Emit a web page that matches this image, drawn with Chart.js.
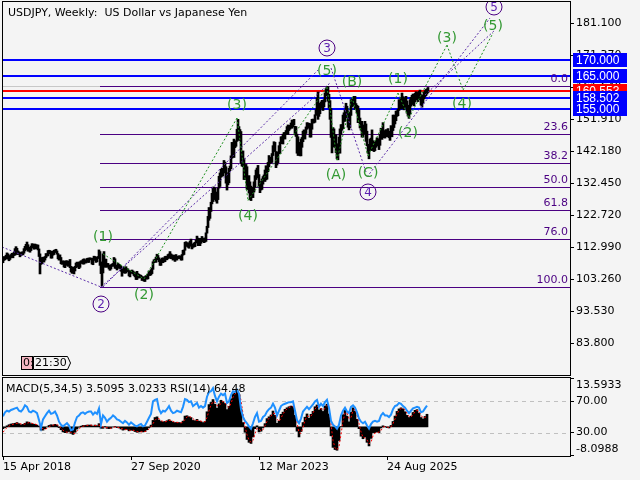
<!DOCTYPE html>
<html lang="en">
<head>
<meta charset="UTF-8">
<title>USDJPY, Weekly</title>
<script src="https://cdn.jsdelivr.net/npm/chart.js@4/dist/chart.umd.min.js"></script>
<style>
  body { margin: 0; background: #f4f4f4; }
  #wrap { position: relative; width: 640px; height: 480px; overflow: hidden; background: #f4f4f4; }
  canvas { position: absolute; left: 0; }
  #main { top: 0; }
  #sub { top: 377px; }
</style>
</head>
<body>
<div id="wrap">
  <canvas id="main" width="640" height="377"></canvas>
  <canvas id="sub" width="640" height="103"></canvas>
</div>
<script>
// weekly bars, week 0 = 15 Apr 2018
const lo = [
  108.3,109.0,109.2,109.5,110.2,109.4,108.9,109.3,109.8,110.0,
  109.8,110.5,110.6,111.8,110.8,110.9,110.8,110.1,110.5,110.7,
  110.7,111.2,111.9,112.3,113.3,111.8,111.9,111.5,112.0,112.8,
  112.9,112.4,113.0,112.5,112.8,112.2,110.2,104.9,107.8,108.0,
  109.0,108.5,109.1,109.8,110.3,110.4,111.0,111.1,109.7,109.7,
  110.6,110.8,111.7,111.4,110.9,109.5,109.1,109.2,108.0,107.8,
  108.0,107.0,106.8,107.5,107.8,107.2,107.7,106.8,105.5,105.1,
  105.2,104.9,105.8,106.8,107.4,107.0,106.5,106.9,108.1,108.2,
  107.9,107.9,108.3,108.2,108.7,108.4,108.4,109.2,109.2,107.9,
  107.7,109.4,109.0,108.4,108.6,109.6,109.7,107.5,105.0,101.2,
  105.2,107.2,106.9,107.9,106.9,107.2,106.4,106.0,106.4,107.3,
  107.2,107.4,106.6,106.6,106.1,107.0,106.6,106.6,105.7,104.2,
  105.3,105.2,105.1,105.2,105.6,105.9,104.3,104.0,105.2,105.1,
  104.9,104.4,104.0,103.2,103.2,103.7,103.7,103.7,103.8,102.9,
  103.1,102.7,102.6,103.5,103.3,103.4,104.6,104.4,104.6,105.0,
  106.3,108.3,108.6,108.4,109.6,109.2,108.6,107.5,107.5,108.5,
  108.3,108.6,108.6,109.2,109.2,109.6,109.7,110.4,109.5,109.7,
  109.1,109.4,108.7,109.2,109.1,109.6,109.6,109.6,109.1,109.1,
  110.6,110.8,112.1,113.4,113.3,113.0,112.7,113.6,113.3,112.5,
  113.0,113.1,113.2,114.3,115.0,113.5,113.5,113.5,114.2,115.0,
  114.7,114.4,114.6,114.8,117.3,119.0,121.2,121.8,123.9,126.2,
  126.9,129.8,127.5,127.0,126.4,127.5,131.0,131.5,134.3,134.6,
  134.7,135.8,135.6,132.5,130.4,132.0,132.6,136.3,136.9,140.1,
  141.7,140.3,143.3,143.7,145.2,148.4,145.5,145.6,138.5,137.7,
  137.5,133.6,133.6,134.0,130.6,130.6,129.5,127.5,127.2,129.0,
  128.1,129.8,131.3,133.6,135.2,134.1,131.6,129.6,130.4,130.6,
  132.2,133.6,133.0,133.5,133.7,136.0,137.5,138.5,138.7,138.8,
  140.9,143.0,142.1,137.2,138.0,138.7,141.5,141.5,144.5,144.6,
  144.4,146.0,145.9,147.3,148.4,147.3,148.5,148.9,149.3,149.2,
  149.6,150.2,147.2,146.7,141.6,140.9,141.9,140.8,140.8,143.4,
  145.1,146.7,145.9,147.6,148.9,149.6,149.2,146.5,146.5,148.9,
  150.8,150.8,151.0,153.1,154.4,151.9,152.8,153.6,155.4,156.3,
  154.6,155.7,157.2,159.1,160.3,157.4,155.4,151.9,146.4,141.7,
  146.1,143.5,143.4,141.8,139.9,139.6,142.0,141.6,147.3,148.6,
  149.1,151.3,151.3,152.4,153.3,149.5,148.7,149.4,153.1,155.7,
  156.0,156.7,154.9,155.0,153.8,150.9,150.9,149.3,148.6,146.5,
  146.5,147.4,148.9,145.2,143.9,141.6,139.9,142.4,142.4,145.1,
  142.4,142.1,142.4,143.4,143.9,143.8,142.7,144.0,147.0,145.8,
  146.6,146.3,146.2,146.8,146.6,146.8,146.3,145.5,147.0,146.6,
  148.5,149.4,150.5,151.5,152.8,153.0,154.6,155.5,155.0,156.5,
  155.2,154.8,155.5,156.0,153.8,152.9,152.2,153.5,155.9,156.4,
  157.0,156.0,157.2,157.8,158.0,157.3,157.9,158.6,156.2,155.6,
  156.8,158.1,158.7,159.1,159.6,160.0
];
const hi = [
  109.6,110.2,110.0,110.6,111.3,111.0,110.2,110.5,110.8,111.2,
  110.9,111.5,112.6,113.2,112.7,111.9,111.6,111.4,111.3,111.6,
  111.6,112.6,113.3,113.9,114.6,113.8,112.9,113.0,113.4,114.1,
  114.0,113.4,114.0,113.8,113.7,113.7,112.5,111.0,109.1,109.9,
  110.0,109.9,110.2,111.1,111.0,112.0,112.1,112.0,111.8,111.0,
  111.8,112.1,112.2,112.4,111.9,111.1,110.3,110.7,109.9,108.7,
  108.9,108.8,108.3,108.9,108.9,108.3,108.8,109.3,107.2,107.0,
  106.9,106.7,107.2,108.2,108.5,108.0,108.5,108.6,108.9,108.9,
  109.3,109.5,109.2,109.1,109.6,109.7,109.7,109.8,109.7,109.6,
  109.7,110.3,110.2,109.6,110.0,110.2,112.2,111.7,108.5,108.5,
  111.0,111.7,109.4,109.4,108.1,108.1,107.6,107.0,107.7,107.9,
  108.1,109.9,109.5,107.6,107.4,108.2,107.8,107.5,107.3,106.0,
  106.5,107.0,106.1,107.1,106.6,106.4,105.9,105.8,105.8,106.1,
  105.8,105.5,105.0,105.3,105.7,105.0,104.8,104.6,104.5,104.1,
  104.0,103.7,104.1,104.4,104.1,104.9,105.8,105.6,106.2,106.7,
  108.6,109.2,109.4,110.0,110.9,110.5,109.8,108.8,109.3,109.7,
  109.8,109.4,110.2,110.3,109.8,110.8,111.0,111.7,111.0,110.7,
  110.6,110.6,110.3,110.8,110.0,110.3,110.4,110.4,110.1,110.8,
  112.1,112.2,114.5,114.7,114.3,114.4,114.2,114.9,115.5,113.9,
  114.0,114.3,114.5,115.2,116.4,115.8,115.0,115.7,115.7,116.3,
  115.7,115.8,115.8,117.4,119.4,122.4,125.1,124.7,126.7,129.4,
  131.3,131.3,131.0,129.8,128.0,131.0,134.6,135.6,136.7,137.0,
  136.6,139.4,138.9,137.5,135.6,135.6,137.0,137.7,140.8,144.9,
  144.7,145.9,145.0,145.4,148.9,151.9,149.7,148.8,148.2,140.8,
  142.3,139.9,137.9,138.2,137.5,134.5,134.8,132.9,131.6,131.1,
  131.2,132.9,134.8,136.5,137.1,137.9,135.1,132.7,133.0,133.8,
  134.5,135.0,136.5,137.8,136.0,138.8,140.9,140.4,140.2,141.5,
  143.9,145.1,144.9,142.1,142.0,141.9,143.9,145.0,146.6,146.6,
  147.4,147.9,147.9,148.5,149.7,150.2,149.8,150.1,150.8,151.7,
  151.6,151.9,149.8,149.7,147.4,146.6,144.9,142.8,145.9,146.4,
  148.3,148.7,148.6,149.6,150.9,150.8,150.7,150.6,149.2,151.9,
  152.0,151.9,153.3,154.8,158.4,160.2,155.9,156.8,157.2,157.7,
  157.0,157.9,159.9,161.3,161.9,161.8,159.5,157.6,155.2,147.9,
  149.4,149.0,147.2,147.2,143.0,144.5,146.5,149.0,150.3,150.3,
  153.2,153.9,154.7,156.8,155.9,154.5,151.2,154.0,157.9,158.1,
  158.2,158.9,158.9,156.7,156.2,155.9,154.8,152.3,151.2,151.3,
  149.2,150.2,151.3,150.5,148.3,144.3,144.0,145.9,146.2,148.7,
  145.4,144.9,145.0,145.5,146.3,146.0,144.9,147.3,149.2,148.8,
  150.9,148.0,148.5,148.8,148.0,149.1,148.2,148.3,150.0,149.5,
  153.2,153.2,152.9,154.4,154.5,155.0,157.9,157.2,158.5,159.9,
  158.8,157.9,158.4,158.9,157.5,156.2,155.6,157.9,158.6,159.2,
  159.6,158.8,159.8,160.3,160.1,159.6,160.4,160.8,159.4,158.2,
  159.3,160.1,160.6,161.0,161.2,161.6
];

// indicator values, one every 2 weeks
const macd = [
  -0.5,-0.2,0.3,0.6,0.8,0.9,1.0,1.2,0.9,0.6,
  0.7,1.0,1.4,1.3,0.9,0.8,0.7,0.5,0.2,-0.9,
  -0.9,-0.5,0.0,0.4,0.6,0.5,0.7,0.5,-0.2,-0.8,
  -1.4,-1.6,-1.5,-1.3,-1.8,-2.1,-1.5,-0.6,-0.1,0.2,
  0.4,0.4,0.5,0.5,0.5,0.2,0.5,0.3,0.9,-0.4,
  -0.4,0.1,-0.4,-0.5,-0.4,0.0,0.1,-0.2,-0.3,-0.6,
  -0.9,-0.7,-0.7,-1.1,-0.9,-1.0,-1.3,-1.5,-1.4,-1.3,
  -1.4,-1.3,-0.8,-0.2,0.5,1.8,2.6,2.8,1.9,1.5,
  1.4,1.5,1.7,2.0,1.6,1.3,1.2,1.3,1.2,1.1,
  1.6,3.0,3.1,2.8,2.6,1.8,1.7,2.1,1.6,1.5,
  1.2,1.5,4.2,6.2,6.8,7.6,6.3,5.2,6.4,7.4,
  7.0,6.5,4.8,5.7,7.8,9.2,9.4,10.4,9.0,5.0,
  1.2,-1.5,-3.5,-4.3,-4.6,-2.8,-0.5,0.3,-1.4,-1.2,
  -0.2,0.9,2.3,2.8,3.3,4.4,3.2,1.0,1.6,3.5,
  4.1,4.9,5.3,5.6,5.8,5.7,3.2,-1.2,-2.8,-1.3,
  1.2,2.7,3.6,2.4,3.5,4.3,5.6,6.1,4.7,5.1,
  4.3,5.8,6.3,3.6,-2.5,-5.7,-6.3,-6.5,-3.8,0.1,
  3.4,4.6,3.0,1.4,4.1,5.3,4.4,2.1,-0.5,-2.6,
  -3.3,-2.8,-4.3,-5.3,-3.2,-1.6,-1.6,-1.4,-1.6,-0.3,
  0.3,0.1,-0.2,-0.3,0.4,1.5,3.0,4.3,5.0,5.3,
  5.0,4.2,3.2,2.6,3.0,4.0,4.6,4.8,3.8,2.6,
  2.2,2.9,3.5095
];
const signal = [
  -1.5,-0.8,-0.2,0.2,0.5,0.7,0.9,1.0,1.0,0.8,
  0.7,0.8,1.0,1.2,1.1,0.9,0.8,0.6,0.4,-0.1,
  -0.6,-0.7,-0.4,0.0,0.3,0.5,0.6,0.6,0.2,-0.4,
  -0.9,-1.3,-1.5,-1.4,-1.5,-1.8,-1.8,-1.2,-0.6,-0.1,
  0.2,0.3,0.4,0.5,0.5,0.4,0.4,0.4,0.5,0.3,
  -0.1,-0.2,-0.2,-0.3,-0.4,-0.2,0.0,-0.1,-0.2,-0.4,
  -0.6,-0.8,-0.7,-0.9,-1.0,-0.9,-1.1,-1.3,-1.4,-1.4,
  -1.3,-1.3,-1.1,-0.6,0.0,0.9,1.8,2.4,2.3,1.8,
  1.5,1.4,1.6,1.8,1.8,1.5,1.3,1.2,1.2,1.1,
  1.3,2.1,2.8,2.9,2.7,2.3,1.8,1.8,1.8,1.6,
  1.4,1.4,2.6,4.5,6.1,7.0,6.9,5.9,5.8,6.6,
  7.1,6.8,5.9,5.4,6.5,8.2,9.1,9.8,9.6,7.4,
  3.6,0.2,-2.2,-3.7,-4.3,-3.8,-1.9,-0.4,-0.6,-1.1,
  -0.8,0.3,1.5,2.4,3.0,3.8,3.7,2.2,1.5,2.4,
  3.6,4.4,5.0,5.4,5.6,5.7,4.6,1.2,-1.6,-1.8,
  -0.2,1.8,3.0,2.9,3.0,3.9,4.9,5.8,5.4,5.0,
  4.7,5.1,6.0,4.9,0.8,-3.8,-5.8,-6.4,-5.4,-2.1,
  1.6,3.9,3.9,2.3,2.6,4.6,4.9,3.4,0.9,-1.4,
  -2.9,-3.0,-3.6,-4.7,-4.3,-2.5,-1.7,-1.5,-1.5,-1.0,
  -0.1,0.1,0.0,-0.2,0.0,0.9,2.2,3.6,4.6,5.1,
  5.1,4.7,3.8,2.9,2.7,3.4,4.2,4.6,4.3,3.3,
  2.5,2.6,3.0233
];
const rsi = [
  51,56,58,57,59,60,61,62,58,57,
  60,65,63,57,56,58,57,55,46,36,
  47,51,55,58,54,55,57,52,44,40,
  38,40,42,39,33,34,43,50,52,55,
  56,54,56,57,57,53,56,54,61,41,
  52,49,44,47,49,52,50,47,46,44,
  42,45,43,40,43,41,39,38,40,41,
  38,39,44,49,54,70,72,73,60,55,
  58,57,60,64,58,55,56,58,57,56,
  63,73,72,69,70,64,66,68,62,64,
  62,64,76,82,83,87,77,70,76,80,
  78,80,68,70,78,83,82,85,80,60,
  50,45,42,38,35,42,50,55,44,45,
  50,52,57,60,62,67,62,52,58,64,
  66,67,68,69,69,70,58,46,42,48,
  57,60,63,60,63,66,70,72,63,67,
  64,69,72,62,45,40,38,35,40,52,
  58,62,57,55,63,65,62,56,48,44,
  42,44,39,35,41,44,45,44,45,52,
  55,52,52,50,53,60,64,65,68,67,
  64,62,58,55,58,61,62,63,62,56,
  57,61,64.48
];

const priceTicks = [181.1, 171.37, 161.64, 151.91, 142.18, 132.45, 122.72, 112.99, 103.26, 93.53, 83.8];
const dateTicks = [0, 128, 256, 384];
const dateLabels = ['15 Apr 2018', '27 Sep 2020', '12 Mar 2023', '24 Aug 2025'];
const rsiLevels = [70, 30];

const blueLevels = [170, 165, 158.502, 155];
const redLevel = 160.553;

const fibText = ['0.0', '23.6', '38.2', '50.0', '61.8', '76.0', '100.0'];
const fibPrice = [161.95, 147.54, 138.63, 131.43, 124.22, 115.55, 100.9];
const fibStart = 97;

const waveText  = ['(1)', '(2)', '(3)', '(4)', '(5)', '(A)', '(B)', '(C)', '(1)', '(2)', '(3)', '(4)', '(5)'];
const waveWeek  = [100, 141, 234, 245, 324, 333, 349, 365, 395, 405, 444, 459, 490];
const wavePrice = [116.13, 98.25, 156.23, 122.51, 166.6, 134.98, 163.25, 135.58, 164.17, 147.75, 176.63, 156.54, 180.28];

const circleText  = ['2', '3', '4', '5'];
const circleWeek  = [98, 324, 365, 491];
const circlePrice = [95.75, 173.59, 129.81, 186.06];

// [week1, price1, week2, price2]
const purpleLines = [
  [-1, 113.09, 98, 100.92],
  [98, 100.92, 327, 162.95],
  [100, 100.92, 315, 166.89],
  [328, 167.51, 363, 135.9],
  [364, 134.38, 487, 182.71],
  [422, 159.3, 492, 179.06]
];
const greenLines = [
  [100, 110.96, 141, 103.36],
  [141, 103.36, 234, 152.31],
  [234, 152.31, 245, 127.2],
  [245, 127.2, 324, 161.72],
  [324, 161.72, 334, 139.5],
  [334, 139.5, 349, 158.7],
  [349, 158.7, 365, 140.8],
  [365, 140.8, 395, 159.9],
  [395, 159.9, 406, 152.3],
  [406, 152.3, 444, 174.5],
  [444, 174.5, 460, 160.8],
  [460, 160.8, 490, 178.15]
];

Chart.defaults.font.family = "'DejaVu Sans', sans-serif";
Chart.defaults.font.size = 11;
Chart.defaults.color = '#000';

const PURPLE = '#4b0082';
const GREEN = '#339933';

function hline(ctx, x1, x2, py, color, w) {
  ctx.strokeStyle = color;
  ctx.lineWidth = w;
  ctx.beginPath();
  ctx.moveTo(x1, py);
  ctx.lineTo(x2, py);
  ctx.stroke();
}

function seg(ctx, x, y, l, color) {
  ctx.strokeStyle = color;
  ctx.lineWidth = 1;
  ctx.setLineDash([2, 2]);
  ctx.beginPath();
  ctx.moveTo(x.getPixelForValue(l[0]), y.getPixelForValue(l[1]));
  ctx.lineTo(x.getPixelForValue(l[2]), y.getPixelForValue(l[3]));
  ctx.stroke();
  ctx.setLineDash([]);
}

function priceBox(ctx, py, text, color) {
  const c = Math.round(py);
  ctx.fillStyle = color;
  ctx.fillRect(573, c - 7, 54, 14);
  ctx.fillStyle = '#fff';
  ctx.font = '12px "Liberation Sans", sans-serif';
  ctx.textAlign = 'left';
  ctx.textBaseline = 'middle';
  ctx.fillText(text, 576, c + 1);
}

// keep the plot area fixed: no extra room for edge labels
function noPad(s) {
  s.paddingTop = 0;
  s.paddingBottom = 0;
  s.paddingLeft = 0;
  s.paddingRight = 0;
}

const mainDeco = {
  id: 'mainDeco',
  beforeDatasetsDraw(chart) {
    const { ctx, chartArea: a, scales: { x, y } } = chart;
    ctx.save();
    ctx.beginPath();
    ctx.rect(a.left, a.top, a.width, a.height);
    ctx.clip();
    hline(ctx, a.left, a.right, Math.round(y.getPixelForValue(fibPrice[0])) + 0.5, '#c8c8c8', 1);
    blueLevels.forEach(p => hline(ctx, a.left, a.right, Math.round(y.getPixelForValue(p)), '#0000ff', 2));
    hline(ctx, a.left, a.right, Math.round(y.getPixelForValue(redLevel)), '#ff0000', 2);
    const fx = x.getPixelForValue(fibStart);
    ctx.font = '11px "DejaVu Sans", sans-serif';
    ctx.textAlign = 'right';
    ctx.textBaseline = 'bottom';
    fibPrice.forEach((p, i) => {
      const py = Math.round(y.getPixelForValue(p)) + 0.5;
      hline(ctx, fx, a.right, py, PURPLE, 1);
      ctx.fillStyle = PURPLE;
      ctx.fillText(fibText[i], a.right - 2, py - 1.5);
    });
    ctx.restore();
  },
  afterDatasetsDraw(chart) {
    const { ctx, chartArea: a, scales: { x, y } } = chart;
    ctx.save();
    ctx.beginPath();
    ctx.rect(a.left, a.top, a.width, a.height);
    ctx.clip();
    purpleLines.forEach(l => seg(ctx, x, y, l, '#5a2ca8'));
    greenLines.forEach(l => seg(ctx, x, y, l, '#1f8f1f'));

    ctx.textAlign = 'center';
    ctx.textBaseline = 'middle';
    ctx.font = '14px "DejaVu Sans", sans-serif';
    ctx.fillStyle = GREEN;
    waveText.forEach((t, i) => {
      ctx.fillText(t, x.getPixelForValue(waveWeek[i]), y.getPixelForValue(wavePrice[i]));
    });

    ctx.font = '12px "DejaVu Sans", sans-serif';
    circleText.forEach((t, i) => {
      const cx = x.getPixelForValue(circleWeek[i]);
      const cy = y.getPixelForValue(circlePrice[i]);
      ctx.strokeStyle = PURPLE;
      ctx.lineWidth = 1;
      ctx.beginPath();
      ctx.arc(cx, cy, 8, 0, Math.PI * 2);
      ctx.stroke();
      ctx.fillStyle = '#5c1fb0';
      ctx.fillText(t, cx, cy + 0.5);
    });
    ctx.restore();
  },
  afterDraw(chart) {
    const { ctx, scales: { y } } = chart;
    ctx.save();
    // timer
    ctx.font = '11px "DejaVu Sans", sans-serif';
    ctx.textBaseline = 'middle';
    ctx.textAlign = 'left';
    ctx.fillStyle = '#f7b8c4';
    ctx.fillRect(22, 357, 10, 13);
    ctx.strokeStyle = '#000';
    ctx.lineWidth = 1;
    ctx.strokeRect(21.5, 356.5, 11, 13);
    ctx.fillStyle = '#000';
    ctx.save();
    ctx.beginPath();
    ctx.rect(22, 357, 10, 13);
    ctx.clip();
    ctx.fillText('0:', 23, 363.5);
    ctx.restore();
    ctx.beginPath();
    ctx.moveTo(33.5, 356.5);
    ctx.lineTo(67.5, 356.5);
    ctx.lineTo(70.5, 363);
    ctx.lineTo(67.5, 369.5);
    ctx.lineTo(33.5, 369.5);
    ctx.closePath();
    ctx.fillStyle = '#f4f4f4';
    ctx.fill();
    ctx.stroke();
    ctx.fillStyle = '#000';
    ctx.fillText('21:30', 35, 363.5);

    // frame
    ctx.strokeRect(2.5, 1.5, 568, 374);

    // title
    ctx.fillStyle = '#000';
    ctx.fillText('USDJPY, Weekly:  US Dollar vs Japanese Yen', 8, 13);

    // price boxes on the axis
    priceBox(ctx, y.getPixelForValue(redLevel), redLevel.toFixed(3), '#ff0000');
    blueLevels.forEach(p => priceBox(ctx, y.getPixelForValue(p), p.toFixed(3), '#0000ff'));
    ctx.restore();
  }
};

new Chart(document.getElementById('main'), {
  type: 'bar',
  data: {
    datasets: [{
      data: hi.map((h, i) => ({ x: i, y: [lo[i], h] })),
      backgroundColor: '#000',
      barThickness: 2,
      grouped: false
    }]
  },
  options: {
    responsive: false,
    animation: false,
    events: [],
    devicePixelRatio: 1,
    layout: { padding: { left: 2, top: 2, right: 0, bottom: 2 } },
    plugins: { legend: { display: false }, tooltip: { enabled: false } },
    scales: {
      x: { type: 'linear', min: -1, max: 567, offset: false, display: false },
      y: {
        position: 'right',
        min: 74.17,
        max: 187.58,
        afterFit(s) { s.width = 70; noPad(s); },
        afterBuildTicks(s) { s.ticks = priceTicks.map(v => ({ value: v })); },
        ticks: { color: '#000', padding: 2, callback: v => v.toFixed(3) },
        grid: { drawOnChartArea: false, color: '#000', tickLength: 4 },
        border: { display: false }
      }
    }
  },
  plugins: [mainDeco]
});

const subDeco = {
  id: 'subDeco',
  beforeDatasetsDraw(chart) {
    const { ctx, chartArea: a, scales: { yRsi } } = chart;
    ctx.save();
    ctx.setLineDash([4, 4]);
    rsiLevels.forEach(v => hline(ctx, a.left, a.right, Math.round(yRsi.getPixelForValue(v)) + 0.5, '#c0c0c0', 1));
    ctx.restore();
  },
  afterDraw(chart) {
    const { ctx, chartArea: a } = chart;
    ctx.save();
    ctx.strokeStyle = '#000';
    ctx.lineWidth = 1;
    ctx.strokeRect(2.5, 0.5, 568, a.bottom);
    hline(ctx, 570, 574, 1.5, '#000', 1);
    hline(ctx, 570, 574, a.bottom - 0.5, '#000', 1);
    ctx.fillStyle = '#000';
    ctx.font = '11px "DejaVu Sans", sans-serif';
    ctx.textAlign = 'left';
    ctx.textBaseline = 'middle';
    ctx.fillText('13.5933', 576, 8);
    ctx.fillText('-8.0988', 576, 72);
    ctx.fillText('MACD(5,34,5) 3.5095 3.0233 RSI(14) 64.48', 6, 12);
    ctx.restore();
  }
};

new Chart(document.getElementById('sub'), {
  type: 'bar',
  data: {
    datasets: [
      {
        type: 'line',
        data: rsi.map((v, k) => ({ x: 2 * k, y: v })),
        yAxisID: 'yRsi',
        borderColor: '#1e90ff',
        borderWidth: 2,
        pointRadius: 0,
        order: 1
      },
      {
        type: 'line',
        data: signal.map((v, k) => ({ x: 2 * k, y: v })),
        yAxisID: 'yMacd',
        borderColor: '#ff0000',
        borderWidth: 1,
        borderDash: [2, 2],
        pointRadius: 0,
        order: 2
      },
      {
        type: 'bar',
        data: macd.map((v, k) => ({ x: 2 * k, y: v })),
        yAxisID: 'yMacd',
        backgroundColor: '#000',
        barThickness: 2,
        grouped: false,
        order: 3
      }
    ]
  },
  options: {
    responsive: false,
    animation: false,
    events: [],
    devicePixelRatio: 1,
    layout: { padding: { left: 2, top: 1, right: 0, bottom: 0 } },
    plugins: { legend: { display: false }, tooltip: { enabled: false } },
    scales: {
      x: {
        type: 'linear',
        min: -1,
        max: 567,
        offset: false,
        afterFit(s) { s.height = 24; noPad(s); },
        afterBuildTicks(s) { s.ticks = dateTicks.map(v => ({ value: v })); },
        ticks: {
          align: 'start',
          color: '#000',
          padding: 1,
          maxRotation: 0,
          autoSkip: false,
          callback: v => dateLabels[dateTicks.indexOf(v)]
        },
        grid: { drawOnChartArea: false, offset: false, color: '#000', tickLength: 4 },
        border: { display: false }
      },
      yRsi: {
        position: 'right',
        min: 0,
        max: 100,
        afterFit(s) { s.width = 70; noPad(s); },
        afterBuildTicks(s) { s.ticks = rsiLevels.map(v => ({ value: v })); },
        ticks: { color: '#000', padding: 2, callback: v => v.toFixed(2) },
        grid: { drawOnChartArea: false, color: '#000', tickLength: 4 },
        border: { display: false }
      },
      yMacd: { position: 'right', min: -8.0988, max: 13.5933, display: false }
    }
  },
  plugins: [subDeco]
});
</script>
</body>
</html>
